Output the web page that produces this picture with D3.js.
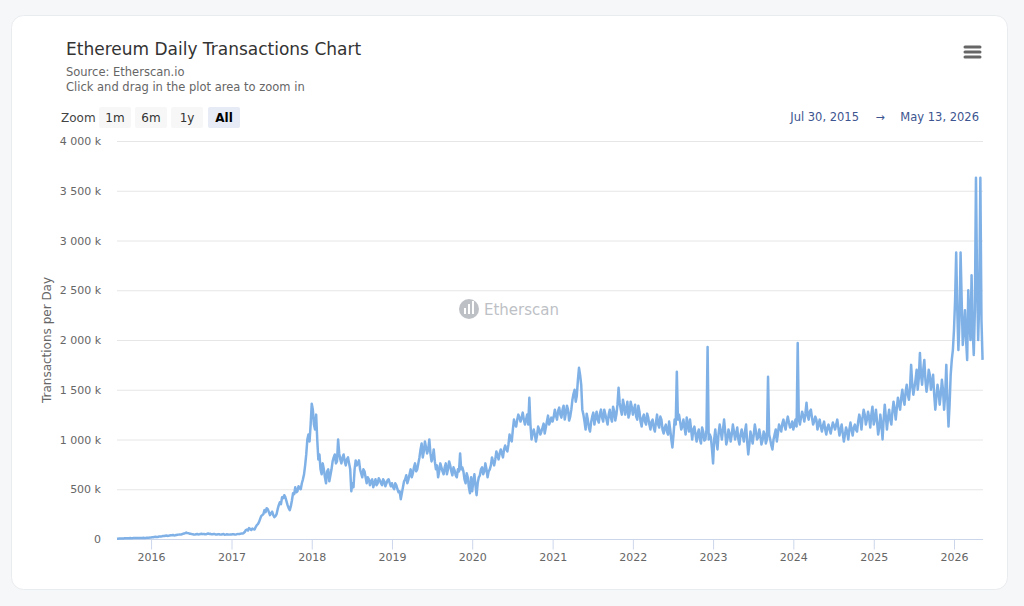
<!DOCTYPE html>
<html>
<head>
<meta charset="utf-8">
<title>Ethereum Daily Transactions Chart</title>
<style>
body{
    margin:0;
    padding:0;
    background-color:#f6f7f9;
    font-family:"DejaVu Sans", "Lucida Grande", sans-serif;
}
#chart{
    position:absolute;
    left:0;
    top:0;
}
</style>
</head>
<body>
<svg id="chart" width="1024" height="606"></svg>
<script src="https://cdn.jsdelivr.net/npm/d3@7"></script>
<script>
// daily transactions, thousands, one value every 10 days
// 2015 starts on Jul 30, every other year on Jan 1
var tx2015 = [2, 4, 6, 5, 8, 7, 9, 8, 10, 9, 11, 10, 12, 11, 13, 14];
var tx2016 = [16, 18, 22, 20, 25, 28, 30, 35, 32, 38, 40, 37, 42, 45, 48, 55, 65, 58, 52, 48,
              45, 50, 47, 52, 50, 48, 55, 52, 48, 50, 46, 48, 45, 50, 44, 46, 45];
var tx2017 = [45, 48, 46, 50, 52, 55, 70, 95, 110, 90, 100, 120, 150, 200, 240, 290, 310, 270, 260, 240,
              230, 300, 370, 420, 440, 380, 310, 330, 460, 520, 480, 510, 560, 650, 850, 1050, 1150];
var tx2018 = [1360, 1150, 1250, 800, 700, 760, 620, 680, 580, 700, 820, 760, 1000, 800, 820, 780, 800, 760, 480, 520,
              790, 760, 700, 620, 680, 560, 600, 580, 520, 600, 560, 590, 540, 580, 560, 600, 530];
var tx2019 = [560, 500, 540, 470, 400, 520, 600, 560, 650, 620, 720, 680, 760, 900, 820, 980, 860, 1000, 780, 900,
              700, 620, 760, 680, 720, 650, 780, 680, 720, 640, 700, 860, 720, 600, 660, 520, 620];
var tx2020 = [480, 650, 440, 620, 700, 650, 760, 620, 700, 820, 740, 880, 800, 900, 820, 940, 880, 1050, 980, 1200,
              1130, 1250, 1180, 1270, 1150, 1250, 1420, 1000, 1100, 980, 1130, 1050, 1120, 1060, 1180, 1150, 1220];
var tx2021 = [1180, 1300, 1200, 1320, 1220, 1340, 1260, 1300, 1230, 1400, 1500, 1440, 1720, 1550, 1250, 1100, 1200, 1080, 1230, 1150,
              1280, 1170, 1300, 1180, 1250, 1150, 1300, 1180, 1280, 1250, 1520, 1300, 1400, 1250, 1380, 1260, 1330];
var tx2022 = [1250, 1350, 1200, 1280, 1130, 1250, 1150, 1220, 1100, 1200, 1080, 1250, 1120, 1200, 1060, 1150, 1050, 1100, 920, 1200,
              1680, 1250, 1100, 1200, 1050, 1150, 1200, 1000, 1130, 980, 1100, 960, 1080, 1000, 1930, 1050, 900];
var tx2023 = [760, 1100, 900, 1150, 1000, 1200, 950, 1100, 980, 1150, 1000, 1120, 950, 1100, 980, 1150, 850, 1080, 960, 1150,
              1000, 1100, 950, 1080, 960, 1630, 1000, 900, 1050, 980, 1150, 1080, 1200, 1100, 1230, 1120, 1180];
var tx2024 = [1100, 1200, 1970, 1150, 1280, 1180, 1370, 1200, 1300, 1150, 1230, 1100, 1200, 1080, 1180, 1050, 1150, 1060, 1170, 1100,
              1200, 1040, 1150, 980, 1120, 1000, 1170, 1040, 1150, 1080, 1250, 1100, 1300, 1150, 1280, 1120, 1330];
var tx2025 = [1150, 1300, 1050, 1250, 1000, 1350, 1100, 1300, 1150, 1380, 1200, 1420, 1300, 1500, 1350, 1550, 1400, 1750, 1450, 1600,
              1500, 1870, 1550, 1800, 1480, 1700, 1500, 1650, 1300, 1550, 1350, 1600, 1300, 1750, 1130, 1650, 1900];
var tx2026 = [2100, 2880, 1900, 2880, 1950, 2300, 1800, 2200, 2650, 1850, 3630, 2000, 3630, 1800];

// values 5 days after each of the above (in-between days)
var mid2015 = [3, 5, 5, 7, 7, 8, 8, 9, 10, 10, 10, 11, 11, 12, 13];
var mid2016 = [17, 21, 19, 24, 26, 31, 33, 31, 36, 37, 36, 40, 44, 44, 52, 60, 59, 53, 49, 44,
               48, 46, 50, 49, 47, 52, 51, 47, 51, 45, 49, 44, 48, 43, 47, 44];
var mid2017 = [47, 44, 49, 49, 56, 60, 90, 85, 100, 105, 95, 140, 170, 230, 250, 270, 300, 240, 275, 220,
               250, 340, 350, 410, 420, 340, 290, 390, 450, 470, 530, 500, 600, 740, 1000, 980];
var mid2018 = [1300, 1100, 1000, 850, 650, 700, 560, 700, 640, 780, 850, 780, 860, 760, 850, 740, 820, 700, 560, 700,
               740, 790, 660, 700, 620, 620, 540, 600, 560, 540, 610, 560, 600, 530, 590, 560];
var mid2019 = [520, 560, 500, 480, 460, 580, 640, 600, 700, 660, 760, 700, 820, 960, 880, 920, 900, 860, 820, 780,
               740, 680, 720, 650, 760, 700, 740, 640, 690, 620, 680, 700, 680, 560, 620, 460];
var mid2020 = [580, 540, 560, 640, 720, 680, 700, 680, 740, 780, 800, 840, 860, 860, 900, 900, 950, 1000, 1100, 1150,
               1200, 1220, 1220, 1200, 1200, 1150, 1150, 1060, 1050, 1040, 1100, 1080, 1160, 1120, 1240, 1180];
var mid2021 = [1230, 1240, 1290, 1250, 1300, 1200, 1340, 1190, 1300, 1460, 1380, 1600, 1650, 1300, 1180, 1260, 1120, 1170, 1270, 1220,
               1200, 1260, 1220, 1300, 1200, 1250, 1220, 1330, 1190, 1350, 1370, 1250, 1340, 1300, 1220, 1380];
var mid2022 = [1300, 1230, 1340, 1180, 1220, 1180, 1260, 1150, 1180, 1120, 1170, 1150, 1230, 1100, 1120, 1080, 1180, 1000, 1050, 1150,
               1200, 1180, 1130, 1120, 1220, 1080, 1100, 1100, 1050, 1060, 1000, 1120, 990, 1100, 1000, 1020];
var mid2023 = [1000, 980, 1060, 1080, 1100, 1080, 1000, 1060, 1050, 1080, 1060, 1000, 1050, 1040, 1080, 980, 950, 1020, 1050, 1080,
               1020, 1040, 990, 1050, 1000, 1050, 940, 1000, 1100, 1060, 1120, 1160, 1140, 1180, 1170, 1130];
var mid2024 = [1150, 1130, 1200, 1220, 1240, 1260, 1240, 1280, 1220, 1180, 1200, 1150, 1130, 1140, 1100, 1120, 1100, 1120, 1140, 1150,
               1120, 1100, 1060, 1050, 1080, 1100, 1100, 1120, 1100, 1180, 1200, 1220, 1250, 1200, 1220, 1250];
var mid2025 = [1200, 1180, 1120, 1150, 1200, 1230, 1220, 1200, 1280, 1300, 1320, 1350, 1420, 1400, 1480, 1450, 1520, 1560, 1520, 1700,
               1620, 1650, 1700, 1600, 1560, 1650, 1580, 1450, 1420, 1480, 1450, 1500, 1450, 1400, 1350, 1800];
var mid2026 = [2400, 2300, 2200, 2400, 2100, 2000, 2500, 2000, 2100, 2300, 2600, 2400, 2200];

var seriesStarts = [
    [new Date(2015, 6, 30), tx2015, mid2015],
    [new Date(2016, 0, 1), tx2016, mid2016],
    [new Date(2017, 0, 1), tx2017, mid2017],
    [new Date(2018, 0, 1), tx2018, mid2018],
    [new Date(2019, 0, 1), tx2019, mid2019],
    [new Date(2020, 0, 1), tx2020, mid2020],
    [new Date(2021, 0, 1), tx2021, mid2021],
    [new Date(2022, 0, 1), tx2022, mid2022],
    [new Date(2023, 0, 1), tx2023, mid2023],
    [new Date(2024, 0, 1), tx2024, mid2024],
    [new Date(2025, 0, 1), tx2025, mid2025],
    [new Date(2026, 0, 1), tx2026, mid2026]
];

var yTicks = [0, 500, 1000, 1500, 2000, 2500, 3000, 3500, 4000];
var zoomButtons = ["1m", "6m", "1y", "All"];
var rangeFrom = "Jul 30, 2015";
var rangeTo = "May 13, 2026";

var points = [];
seriesStarts.forEach(function(s) {
    s[1].forEach(function(v, i) {
        points.push({date: d3.timeDay.offset(s[0], i * 10), value: v});
        if (i < s[2].length) {
            points.push({date: d3.timeDay.offset(s[0], i * 10 + 5), value: s[2][i]});
        }
    });
});

var svg = d3.select("#chart");
var textColor = "#666666";

// card
svg.append("rect")
    .attr("x", 11.5).attr("y", 15.5)
    .attr("width", 996).attr("height", 574)
    .attr("rx", 12)
    .attr("fill", "white")
    .attr("stroke", "#e9ecef");

// titles
svg.append("text")
    .attr("x", 66).attr("y", 55)
    .attr("font-size", 17)
    .attr("fill", "#333333")
    .text("Ethereum Daily Transactions Chart");

svg.append("text")
    .attr("x", 66).attr("y", 76)
    .attr("font-size", 11.5)
    .attr("fill", textColor)
    .text("Source: Etherscan.io");

svg.append("text")
    .attr("x", 66).attr("y", 91)
    .attr("font-size", 11.5)
    .attr("fill", textColor)
    .text("Click and drag in the plot area to zoom in");

// menu icon
[47, 52, 57].forEach(function(yy) {
    svg.append("line")
        .attr("x1", 965).attr("x2", 980)
        .attr("y1", yy).attr("y2", yy)
        .attr("stroke", "#666666")
        .attr("stroke-width", 3)
        .attr("stroke-linecap", "round");
});

// range selector
svg.append("text")
    .attr("x", 61).attr("y", 122)
    .attr("font-size", 12)
    .attr("fill", "#444444")
    .text("Zoom");

var btnX = [99, 135, 171, 208];
zoomButtons.forEach(function(b, i) {
    var sel = b == "All";
    svg.append("rect")
        .attr("x", btnX[i]).attr("y", 107)
        .attr("width", 32).attr("height", 21)
        .attr("rx", 2)
        .attr("fill", sel ? "#e6ebf5" : "#f7f7f7");
    svg.append("text")
        .attr("x", btnX[i] + 16).attr("y", 122)
        .attr("text-anchor", "middle")
        .attr("font-size", 12)
        .attr("font-weight", sel ? "bold" : "normal")
        .attr("fill", sel ? "#000000" : "#333333")
        .text(b);
});

var rangeColor = "#3d5590";
svg.append("text")
    .attr("x", 859).attr("y", 121)
    .attr("text-anchor", "end")
    .attr("font-size", 11.5)
    .attr("fill", rangeColor)
    .text(rangeFrom);
svg.append("text")
    .attr("x", 880).attr("y", 121)
    .attr("text-anchor", "middle")
    .attr("font-size", 11)
    .attr("fill", rangeColor)
    .text("\u2192");
svg.append("text")
    .attr("x", 979).attr("y", 121)
    .attr("text-anchor", "end")
    .attr("font-size", 11.5)
    .attr("fill", rangeColor)
    .text(rangeTo);

// scales
var x = d3.scaleTime()
    .domain([new Date(2015, 6, 30), new Date(2026, 4, 13)])
    .range([117, 983]);

var y = d3.scaleLinear()
    .domain([0, 4000])
    .range([539, 141]);

// grid
svg.append("g")
    .selectAll("line")
    .data(yTicks.slice(1))
    .enter().append("line")
    .attr("x1", 117).attr("x2", 983)
    .attr("y1", function(d) { return y(d) + 0.5; })
    .attr("y2", function(d) { return y(d) + 0.5; })
    .attr("stroke", "#e6e6e6");

// y axis
var fmt = d3.format(",");
var yAxis = d3.axisLeft(y)
    .tickValues(yTicks)
    .tickSize(0)
    .tickPadding(16)
    .tickFormat(function(d) { return d == 0 ? "0" : fmt(d).replace(",", " ") + " k"; });

var gy = svg.append("g")
    .attr("transform", "translate(117,0)")
    .call(yAxis);
gy.select(".domain").remove();
gy.selectAll("text")
    .attr("font-family", "DejaVu Sans, sans-serif")
    .attr("font-size", 11)
    .attr("fill", textColor);

svg.append("text")
    .attr("transform", "translate(51,340) rotate(-90)")
    .attr("text-anchor", "middle")
    .attr("font-size", 12)
    .attr("fill", textColor)
    .text("Transactions per Day");

// x axis
var xAxis = d3.axisBottom(x)
    .ticks(d3.timeYear.every(1))
    .tickSize(10)
    .tickPadding(4)
    .tickFormat(d3.timeFormat("%Y"));

var gx = svg.append("g")
    .attr("transform", "translate(0,539.5)")
    .call(xAxis);
gx.select(".domain").attr("stroke", "#ccd6eb").attr("d", "M117,0H983");
gx.selectAll(".tick line").attr("stroke", "#ccd6eb");
gx.selectAll("text")
    .attr("font-family", "DejaVu Sans, sans-serif")
    .attr("font-size", 11)
    .attr("fill", textColor);

// watermark
var wm = svg.append("g").attr("opacity", 0.5);
wm.append("circle")
    .attr("cx", 469).attr("cy", 309).attr("r", 10)
    .attr("fill", "#7d838c");
[[464, 308, 6], [468, 304, 10], [472, 301, 13]].forEach(function(b) {
    wm.append("rect")
        .attr("x", b[0]).attr("y", b[1])
        .attr("width", 2).attr("height", b[2])
        .attr("fill", "white");
});
wm.append("text")
    .attr("x", 484).attr("y", 315)
    .attr("font-size", 15)
    .attr("fill", "#7d838c")
    .text("Etherscan");

// series
var line = d3.line()
    .x(function(d) { return x(d.date); })
    .y(function(d) { return y(d.value); });

svg.append("path")
    .datum(points)
    .attr("d", line)
    .attr("fill", "none")
    .attr("stroke", "#7fb1e7")
    .attr("stroke-width", 2.5)
    .attr("stroke-linejoin", "round");
</script>
</body>
</html>
